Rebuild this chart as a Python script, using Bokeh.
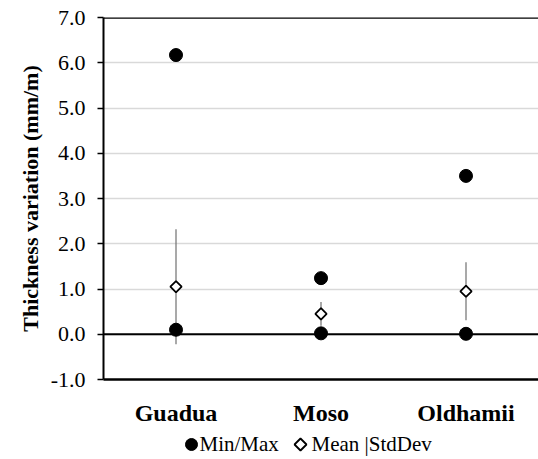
from bokeh.plotting import figure
from bokeh.layouts import column
from bokeh.models import (FactorRange, Range1d, FixedTicker, Span, LinearAxis,
                          ColumnDataSource, CustomJSTickFormatter)
from bokeh.core.properties import value
from bokeh.embed import file_html
from bokeh.resources import INLINE

categories = ["Guadua", "Moso", "Oldhamii"]
min_vals = [0.10, 0.02, 0.01]
max_vals = [6.17, 1.24, 3.50]
mean_vals = [1.05, 0.45, 0.95]
std_vals = [1.27, 0.26, 0.64]
y_ticks = [-1, 0, 1, 2, 3, 4, 5, 6, 7]
legend_labels = ["Min/Max", "Mean |StdDev"]

FONT = "Liberation Serif"

p = figure(width=538, height=428, x_range=FactorRange(factors=categories, range_padding=0),
           y_range=Range1d(-1, 7), output_backend="svg", toolbar_location=None,
           y_axis_location=None,
           min_border_left=103, min_border_right=0, min_border_top=17, min_border_bottom=44)
p.outline_line_color = None
p.background_fill_color = "white"
p.border_fill_color = "white"

# grid
p.xgrid.grid_line_color = None
p.ygrid.ticker = FixedTicker(ticks=y_ticks)
p.ygrid.grid_line_color = "#d9d9d9"
p.ygrid.grid_line_width = 1.5

# y axis (explicit)
yax = LinearAxis(
    ticker=FixedTicker(ticks=y_ticks),
    formatter=CustomJSTickFormatter(code="return tick.toFixed(1);"),
    axis_line_color="black", axis_line_width=2,
    major_tick_line_color="black", major_tick_line_width=1.5,
    major_tick_out=6, major_tick_in=0, minor_tick_line_color=None,
    major_label_text_font=FONT, major_label_text_font_size="22px",
    major_label_text_color="black", major_label_standoff=12,
    axis_label="Thickness variation (mm/m)",
    axis_label_text_font=FONT, axis_label_text_font_style="bold",
    axis_label_text_font_size="22px", axis_label_text_color="black",
    axis_label_standoff=5,
)
p.add_layout(yax, "left")

# x axis
p.xaxis.axis_line_color = "black"
p.xaxis.axis_line_width = 2.5
p.xaxis.major_tick_line_color = None
p.xaxis.minor_tick_line_color = None
p.xaxis.major_label_text_font = FONT
p.xaxis.major_label_text_font_style = "bold"
p.xaxis.major_label_text_font_size = "24px"
p.xaxis.major_label_text_color = "black"
p.xaxis.major_label_standoff = 14

# top border and zero line
p.add_layout(Span(location=7, dimension="width", line_color="black", line_width=2.5))
p.add_layout(Span(location=0, dimension="width", line_color="black", line_width=2))

lower = [m - s for m, s in zip(mean_vals, std_vals)]
upper = [m + s for m, s in zip(mean_vals, std_vals)]
src = ColumnDataSource(dict(cat=categories, mn=min_vals, mx=max_vals, mean=mean_vals,
                            lower=lower, upper=upper))

CIRCLE = dict(marker="circle", size=13, fill_color="black", line_color="black")
DIAMOND = dict(marker="square", size=8, angle=0.785398, fill_color="white",
               line_color="black", line_width=1.8)

p.segment(x0="cat", x1="cat", y0="lower", y1="upper", source=src,
          line_color="#707070", line_width=1.2)
p.scatter(x="cat", y="mn", source=src, **CIRCLE)
p.scatter(x="cat", y="mx", source=src, **CIRCLE)
p.scatter(x="cat", y="mean", source=src, **DIAMOND)

# legend strip drawn as a small key (coordinates are in strip pixels)
lf = figure(width=538, height=31, x_range=Range1d(103, 538), y_range=Range1d(0, 31),
            output_backend="svg", toolbar_location=None,
            min_border_left=103, min_border_right=0, min_border_top=0, min_border_bottom=0)
lf.axis.visible = False
lf.grid.visible = False
lf.outline_line_color = None
lf.background_fill_color = "white"
lf.border_fill_color = "white"
key_circle = ColumnDataSource(dict(x=[191.0], y=[15.0]))
key_diamond = ColumnDataSource(dict(x=[300.0], y=[15.0]))
key_text = ColumnDataSource(dict(x=[199.0, 311.0], y=[15.5, 15.5], label=legend_labels))
lf.scatter(x="x", y="y", source=key_circle, marker="circle", size=12,
           fill_color="black", line_color="black")
lf.scatter(x="x", y="y", source=key_diamond, marker="square", size=8.5, angle=0.785398,
           fill_color="white", line_color="black", line_width=1.8)
lf.text(x="x", y="y", text="label", source=key_text, text_font=value(FONT),
        text_font_size="21px", text_color="black", text_baseline="middle",
        text_align="left")

open("out.html", "w").write(file_html(column(p, lf, spacing=0), INLINE))
